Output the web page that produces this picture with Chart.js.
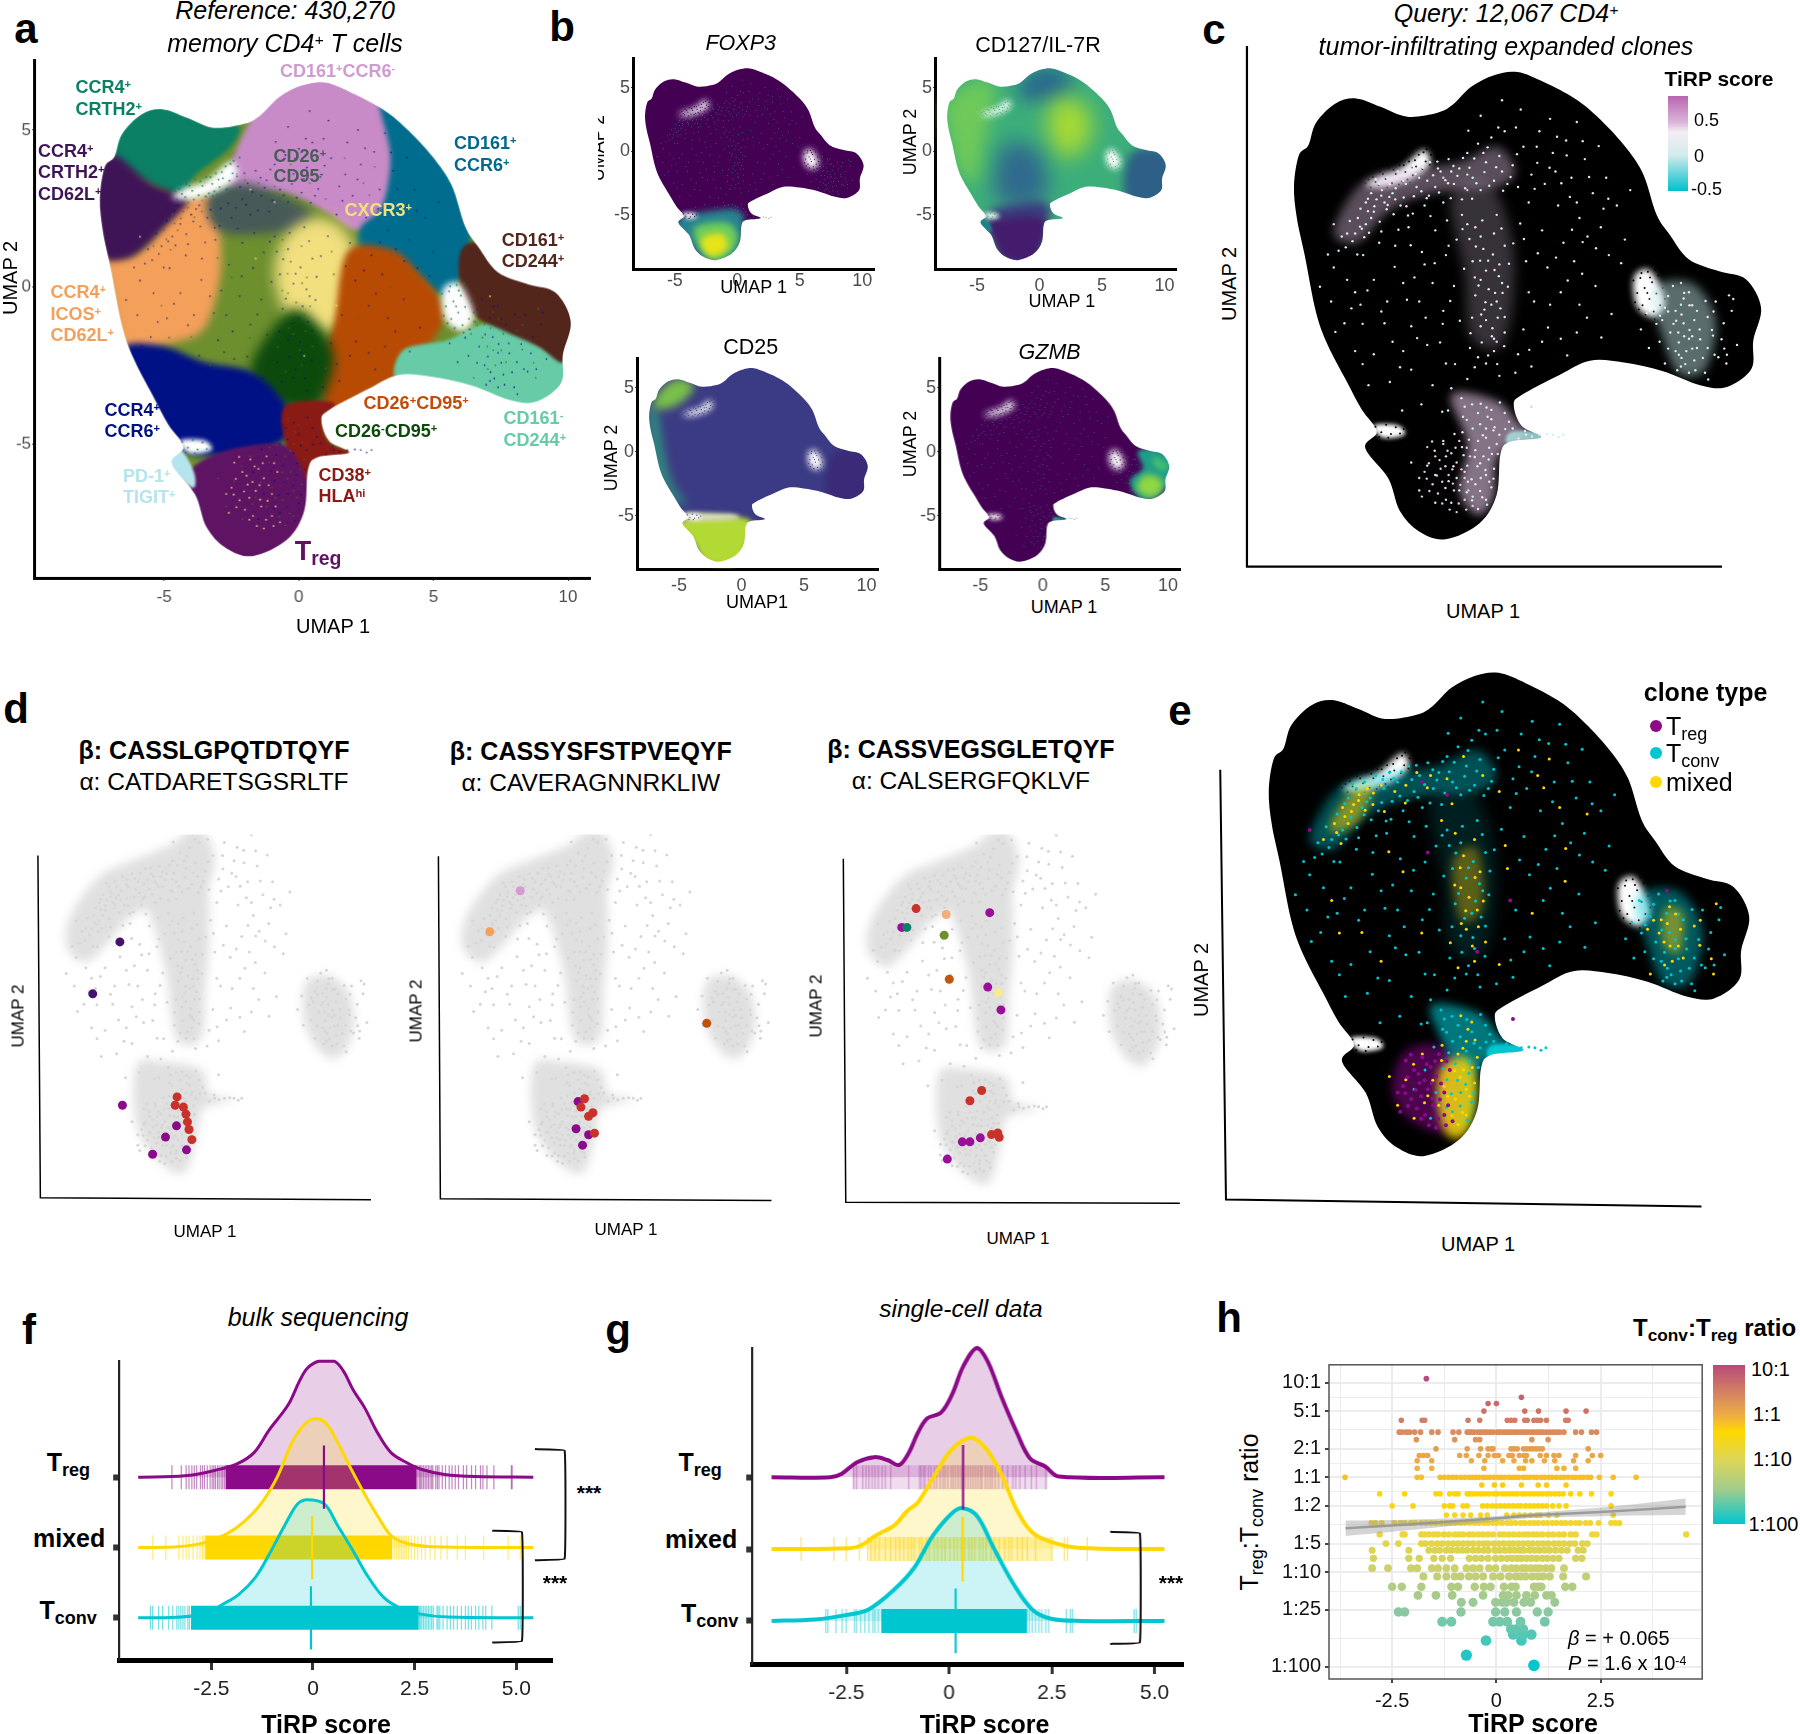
<!DOCTYPE html>
<html>
<head>
<meta charset="utf-8">
<title>UMAP and TiRP score panels</title>
<script src="https://cdn.jsdelivr.net/npm/chart.js@4"></script>
<style>
  html, body { margin: 0; padding: 0; background: #fff; }
  #page { position: relative; width: 1800px; height: 1734px; overflow: hidden; font-family: "Liberation Sans", Arial, sans-serif; }
  #page canvas { position: absolute; }
  .t { position: absolute; white-space: nowrap; line-height: 1; }
  .t sup { font-size: .62em; line-height: 0; vertical-align: .42em; }
  .t sub { font-size: .72em; line-height: 0; vertical-align: -.28em; }
</style>
</head>
<body>
<div id="page"></div>
<script>
// ---- shared UMAP outlines (UMAP 1, UMAP 2) ----
const blobOutline = [[-7.39,2.83],[-7.21,3.82],[-6.85,4.15],[-6.57,4.87],[-5.85,5.49],[-5.07,5.66],[-4.15,5.39],[-3.15,5.07],[-2.01,5.2],[-1.44,5.46],[-0.73,6.05],[0.13,6.42],[0.98,6.51],[1.98,6.18],[3.12,5.66],[3.97,5.07],[4.97,4.15],[5.68,3.23],[6.18,1.92],[6.68,1.26],[7.39,0.47],[8.53,0.08],[9.53,-0.18],[10.1,-1.1],[9.81,-2.15],[9.74,-3.07],[8.82,-3.66],[7.82,-3.6],[6.4,-3.14],[4.97,-2.87],[3.69,-2.81],[2.55,-3.27],[1.13,-3.92],[0.84,-4.25],[1.13,-4.91],[1.87,-5.28],[0.7,-5.43],[0.34,-5.83],[0.2,-7.14],[-0.44,-8.06],[-1.72,-8.58],[-2.72,-8.32],[-3.43,-7.66],[-3.86,-6.61],[-4.72,-5.63],[-4.29,-5.1],[-4.86,-4.38],[-5.43,-3.46],[-6.14,-2.28],[-6.57,-1.23],[-6.99,0.6],[-7.28,1.78]];
const holeTop = [[-4.7,2.85],[-4.2,3.15],[-3.4,3.4],[-2.55,4],[-2.3,3.55],[-2.9,3.1],[-3.9,2.8]];
const holeRight = [[5.35,-0.1],[5.95,0.1],[6.5,-0.9],[6.1,-1.4],[5.45,-1.05]];
const holeLow = [[-4.4,-4.9],[-3.5,-4.9],[-3.25,-5.2],[-4.05,-5.3]];
const holeSpeckTop = [[-4.72,2.92],[-4.44,3.12],[-4.52,2.78],[-4.18,3.28],[-4.22,2.86],[-3.96,3.06],[-3.84,3.42],[-3.72,2.92],[-3.58,3.22],[-3.44,3.5],[-3.34,2.98],[-3.22,3.28],[-3.08,3.62],[-2.94,3.18],[-2.82,3.46],[-2.72,3.84],[-2.58,3.38],[-2.46,3.62],[-2.42,4.02],[-2.3,3.52],[-2.26,3.84],[-4.06,3.22],[-3.66,3.36],[-3.14,3.04],[-2.66,3.12],[-4.34,2.96],[-3.9,2.78],[-3.46,2.88],[-2.98,3.42],[-2.54,3.92],[-2.2,4.12],[-2.86,3.66],[-3.28,3.5],[-4.6,3.04],[-3.04,2.94]];
const holeSpeckRight = [[5.32,-0.22],[5.46,-0.62],[5.58,-0.14],[5.66,-1.02],[5.74,-0.46],[5.86,0.06],[5.92,-0.82],[6.02,-0.28],[6.08,-1.22],[6.18,-0.64],[6.26,-0.06],[6.32,-1.02],[6.42,-0.46],[6.5,-0.82],[5.38,-0.92],[5.52,-1.16],[5.78,-1.32],[6.12,-1.46],[5.94,-0.12],[6.36,-1.36],[6.56,-1.12],[5.62,0.02],[6.14,0.12],[5.84,-0.62]];
const holeSpeckLow = [[-4.34,-4.94],[-4.12,-5.12],[-3.94,-4.88],[-3.76,-5.18],[-3.58,-4.96],[-3.42,-5.16],[-4.2,-5.28],[-3.28,-5.02],[-3.86,-5.3]];

// panel a clusters
const regPink = [[-1.8,5.3],[-0.7,6.2],[1,6.7],[3.3,5.8],[3.6,4.2],[3.3,2.6],[2.2,1.8],[1,2.4],[-0.5,3],[-2.6,3.2]];
const regTeal = [[3,5.9],[4,5.2],[5,4.3],[5.8,3.3],[6.4,1.9],[6,0.3],[5.4,-0.3],[3.6,0.9],[2.3,1.2],[2.3,1.9],[3.1,2.6],[3.4,4.2]];
const regGreen = [[-6.9,4.1],[-6.7,5],[-5.9,5.7],[-5.1,5.9],[-4.1,5.5],[-3,5.2],[-2.2,5.1],[-2.6,4.4],[-3.8,3.6],[-4.4,3],[-5.5,3.3]];
const regPlum = [[-7.6,2.8],[-7.4,3.9],[-6.8,4.2],[-5.5,3.3],[-4.3,2.9],[-4.2,2.6],[-5.1,1.8],[-5.8,1.2],[-6.4,0.9],[-7.2,0.9],[-7.5,1.8]];
const regOrange = [[-7.2,1],[-7,-0.2],[-6.7,-1.5],[-6.3,-2.1],[-4.8,-1.8],[-3.5,-1.3],[-2.9,0.5],[-3,2.2],[-3.3,2.9],[-4.3,2.7],[-5.2,1.8],[-6.2,1]];
const regSlate = [[-3.3,3],[-2,3.3],[-0.6,2.9],[0.5,2.3],[-0.2,1.8],[-1.4,1.7],[-2.6,1.7],[-3.3,2.1]];
const regYellow = [[-0.5,1.6],[0.6,2.2],[1.7,1.8],[2.2,0.6],[1.8,-0.9],[0.8,-1.5],[-0.4,-0.9],[-0.9,0.4]];
const regRust = [[1.8,1.1],[3.4,1.2],[4.4,0.5],[5.3,-0.5],[5.2,-1.4],[3.8,-2.8],[2.5,-3.4],[1.1,-4.1],[0.8,-2.4],[1.3,-1.2]];
const regForest = [[-0.4,-0.8],[0.6,-1.1],[1.3,-2.2],[1,-3.3],[0.5,-3.9],[-0.8,-3.7],[-1.8,-2.6]];
const regNavy = [[-6.5,-1.95],[-5,-1.9],[-3.5,-2.4],[-1.8,-2.7],[-0.7,-3.5],[-0.2,-4.4],[-1,-5.1],[-3,-5.4],[-4.4,-5.2],[-5.1,-4.3],[-5.7,-3.4]];
const regRed = [[-0.5,-3.8],[1.3,-3.7],[0.9,-4.4],[1.2,-5],[2,-5.3],[0.7,-5.5],[0.4,-5.9],[0.3,-7.1],[-0.1,-6],[-0.5,-5]];
const regTreg = [[-4,-5.8],[-2.6,-5.2],[-1,-5],[-0.3,-5.2],[0.3,-6.2],[0.3,-7.2],[-0.4,-8.2],[-1.7,-8.8],[-2.8,-8.5],[-3.6,-7.7],[-4,-6.7]];
const regPd1 = [[-4.9,-5.6],[-4.4,-5.2],[-3.9,-5.9],[-3.9,-6.4],[-4.4,-6.1]];
const regBrown = [[6,1.1],[6.6,1.4],[7.4,0.6],[8.5,0.2],[9.6,0],[10.3,-1.1],[9.9,-2.4],[8.9,-1.9],[7.6,-1.4],[6.5,-0.9],[6,0]];
const regMint = [[3.9,-2],[5.5,-1.7],[6.8,-1.2],[8,-1.3],[9,-1.9],[9.9,-2.4],[9.9,-3.1],[8.8,-3.9],[7.8,-3.8],[6.4,-3.3],[4.9,-3],[3.6,-2.95]];

// panel c, e, d density bands
const bandArc = [[-5.9,1.3],[-5.2,2.6],[-4.2,3.2],[-2.8,3.4],[-1.2,3.6],[0.2,4.1],[0.9,3.3],[0.2,2.8],[-1.5,2.7],[-3,2.4],[-4,1.9],[-5,1]];
const bandMid = [[-1.5,2.5],[0,2.8],[0.8,1],[0.8,-1],[0.3,-2.4],[-0.8,-2],[-1,0]];
const bandLow = [[-1.5,-3.9],[0.2,-4.1],[1,-4.8],[1.4,-5.1],[1,-5.4],[0.2,-6],[0.1,-7.2],[-0.5,-7.8],[-1.2,-7],[-0.9,-5.5]];
const bandTail = [[0.8,-5.1],[2.9,-5.2],[0.8,-5.6]];
const bandRight = [[6,-0.5],[7.5,-0.3],[8.4,-1.5],[8,-3.1],[7,-3.2],[6.4,-2]];
const cloudArc = [[-6.4,0.6],[-6.2,1.8],[-4.7,3.3],[-3,3.9],[-1,4.5],[0.4,5.2],[1.3,4],[0.6,2.6],[-1.5,2.2],[-3,1.8],[-4.2,0.8],[-5.4,0]];
const cloudMid = [[-2.2,2.8],[0.6,3.2],[1,1],[0.8,-1],[0.6,-2.9],[-0.7,-2.9],[-1.2,-0.5],[-1.7,1]];
const cloudLow = [[-2.8,-4],[-1.5,-3.8],[0.6,-4.1],[1,-5],[2.3,-5.25],[0.7,-5.6],[0.4,-6.5],[-0.2,-8],[-1.3,-7.8],[-2.7,-6.4]];
const cloudRight = [[6,-0.8],[7.2,-0.5],[8.3,-1.2],[8.5,-2.6],[7.8,-3.6],[6.9,-3.5],[6,-2.4]];

// panel e / c / d query cells
const tconvCells = [[-5.6,1.2],[-5.3,1.7],[-5.1,1.3],[-4.9,2.1],[-4.7,1.6],[-4.5,2.6],[-4.4,2],[-4.2,2.9],[-4,2.3],[-3.9,3.1],[-3.7,2.6],[-3.5,3.3],[-3.4,2.2],[-3.2,2.9],[-3,3.4],[-2.9,2.5],[-2.7,3.1],[-2.5,2.2],[-2.3,3.6],[-2.1,2.8],[-1.9,3.3],[-1.8,2.3],[-1.6,3.7],[-1.4,2.9],[-1.2,3.4],[-1.1,2.4],[-0.9,3.9],[-0.7,3.1],[-0.5,4.2],[-0.4,2.7],[-0.2,3.6],[0,4.4],[0.1,3],[0.3,3.8],[0.5,4.6],[0.6,2.9],[0.8,3.5],
  [1.2,4.1],[1.5,3.2],[1.8,4.6],[2,2.9],[2.3,3.9],[2.5,2.2],[2.8,4.3],[3,3.1],[3.3,1.8],[3.5,3.7],[3.8,2.6],[4.1,1.5],[4.3,3.1],[1.1,5.3],[0.4,5.6],[-0.4,5.1],[2.2,5],[3.2,4.9],[1.4,2.3],[1.9,1.4],[2.7,1],[3.1,0.4],[3.6,1.2],[4.4,0.6],[4.7,2.2],[5,1.1],[5.2,2.7],[2.1,0.2],[2.6,-0.6],[3.3,-1],[3.9,-0.4],[4.5,-1.3],[1.6,-0.9],[1.2,-1.8],[1.9,-2.2],[2.6,-2.1],[3.2,-1.9],[1.5,-3],[0.9,-3.2],
  [-0.9,1.6],[-0.4,1.2],[0.2,1.9],[0.5,0.9],[-0.7,0.4],[-0.2,0.1],[0.4,-0.3],[-0.6,-0.7],[0,-1],[0.5,-1.4],[-0.4,-1.7],[0.1,-2.1],[-0.8,-2.4],[-0.2,-2.9],[0.3,-3.3],[-0.9,-3.4],[-1.4,-0.4],[-1.7,0.6],[-2.1,1.4],[-1.3,1.1],[-2.6,0.7],[-3.1,1.5],[-3.6,0.9],[-4.2,1],[-4.8,0.6],[-5.4,-0.2],[-5.9,0.2],[-6,-0.9],[-5.5,-1.6],[-4.9,-1],[-4.4,-0.2],[-3.9,-0.9],[-3.3,-0.3],[-2.7,-0.9],[-2.2,-0.3],[-1.8,-1.2],[-3,-1.7],[-3.7,-2.2],[-4.4,-2.6],[-5.1,-2.5],[-2.4,-2.3],[-1.7,-2.9],[-3,-3.1],[-3.8,-3.5],[-2.2,-3.6],[-1.5,-3.7],[-4.6,-3.6],
  [-1,-4.3],[-0.5,-4.5],[0,-4.7],[0.5,-4.5],[-0.7,-5],[-0.2,-5.3],[0.3,-5.2],[0.8,-5],[1.3,-5.2],[1.8,-5.2],[2.3,-5.2],[2.7,-5.2],[-0.6,-5.7],[-0.1,-6],[-0.9,-6.2],[-0.4,-6.6],[0,-6.9],[-0.7,-7.2],[-1.3,-6.6],[-1.7,-5.9],[-2.1,-6.5],[-1.5,-7.4],
  [6.1,-0.6],[6.5,-1.1],[6.8,-0.4],[7.1,-1],[7.4,-0.6],[7.7,-1.2],[7.2,-1.6],[6.7,-1.9],[6.3,-2.2],[6.9,-2.5],[7.4,-2.1],[7.8,-1.8],[8.1,-2.4],[7.6,-2.8],[7.1,-3],[7.4,-3.2],[8,-3.2],[8.5,-2.7],[8.7,-1.6],[8.4,-0.9],[9,-1.2],[9.2,-2.3],[5.6,-1.8],[5.9,-2.4],
  [-5.2,1.05],[-4.85,1.45],[-5.45,0.85],[-4.62,2.42],[-4.18,1.68],[-3.92,2.08],[-4.33,3.05],[-3.66,1.92],[-3.28,2.46],[-3.12,1.88],[-2.84,3.22],[-2.62,2.66],[-2.34,2.52],[-2.18,3.18],[-1.96,2.62],[-1.72,3.02],[-1.52,2.44],[-1.27,3.16],[-0.98,2.76],[-0.82,3.42],[-0.56,2.92],[-0.26,3.28],[-0.08,2.84],[0.18,3.44],[0.44,2.68],[0.72,3.12],[0.96,3.86],[0.26,4.72],[-0.14,4.08],[-0.64,3.72],[-1.06,3.74],[-1.42,3.48],[-2.02,3.62],[-2.56,3.42],[-3.24,3.18],[-3.82,2.48],[-4.58,1.32],[-5.02,0.62],[-5.72,0.74],[-4.12,1.36],[-3.48,1.42],[-2.94,1.94],[-2.28,1.86],[-1.66,1.72],[-1.08,1.44],
  [-0.82,1.12],[-0.34,1.72],[0.06,0.62],[0.38,1.46],[-0.58,0.88],[-0.12,0.42],[0.28,-0.08],[-0.48,-0.38],[0.14,-0.62],[0.62,-0.42],[-0.26,-1.16],[0.34,-1.12],[-0.72,-1.42],[0.04,-1.76],[0.48,-2.34],[-0.36,-2.22],[-0.12,-2.64],[-0.62,-3.02],[0.22,-2.92],[0.66,0.32],[-1.02,0.16],[0.82,0.98],
  [1.62,2.74],[2.18,3.42],[2.94,2.48],[3.66,3.12],[4.38,2.42],[1.08,1.62],[1.74,0.66],[2.42,0.52],[3.02,1.42],[3.92,0.82],[4.86,0.34],[2.86,-0.22],[3.58,-1.42],[2.12,-1.74],[1.42,-2.46],[2.84,-2.64],[4.12,-2.06],[-2.12,0.34],[-2.88,-0.12],[-3.62,0.22],[-4.64,-0.54],[-5.24,-1.12],[-6.12,0.62],[-6.42,-0.42],[-5.84,-1.88],[-4.82,-2.92],[-3.42,-3.02],[-2.78,-2.08],[-1.92,-2.22],[-1.18,-1.52],[-1.54,-0.88],[-2.46,-1.42],[-3.16,-0.84],[-4.12,-1.22],[-1.36,-2.92],[-2.62,-4.22],[-3.34,-4.42],[-1.84,-4.46],[-1.06,-4.62],[1.72,3.58],[2.46,4.42],[3.42,4.28],[4.02,4.12],[0.92,4.72],[-0.86,4.62],
  [-1.12,-4.02],[-0.72,-4.22],[-0.18,-4.32],[0.32,-4.16],[0.66,-4.78],[-0.92,-4.72],[-0.42,-4.86],[0.08,-5.06],[0.52,-5.02],[-0.84,-5.36],[-0.08,-5.62],[0.24,-5.82],[-1.04,-5.86],[-0.52,-6.22],[-0.22,-6.34],[0.08,-6.62],[-0.74,-6.64],[-0.42,-7.02],[-0.16,-7.46],[-0.92,-7.06],[1.02,-5.32],[1.52,-5.26],[2.08,-5.18],[2.52,-5.28],[1.26,-5.08],[-1.62,-4.42],[-1.38,-5.18],
  [6.32,-1.36],[6.62,-0.72],[6.92,-1.52],[7.22,-0.62],[7.52,-1.02],[7.02,-2.22],[7.42,-1.82],[7.82,-2.12],[6.62,-2.42],[7.12,-2.72],[7.52,-2.42],[7.92,-2.72],[7.26,-2.92],[7.64,-3.12],[8.26,-1.82],[8.02,-0.88],[8.36,-2.62],[6.18,-1.62],[5.82,-1.28],[6.96,-3.12],[8.62,-2.12],[8.82,-2.62],[8.12,-3.42],[9.06,-0.82]];
const mixedCells = [[-5.4,1.3],[-5,1.8],[-4.7,2.3],[-4.5,1.8],[-4.3,2.4],[-4.1,2.7],[-3.8,2.9],[-3.6,2.4],[-3.3,3],[-2.8,2.8],[-2.4,3],[-2,3.4],[-1.5,3.3],[-0.9,3.2],[-0.3,3.9],[0.4,3.3],[1,2.8],[2.4,3.3],[3.2,2.3],[1.7,4.1],
  [-1.1,1.9],[-0.6,1.5],[-0.3,0.8],[0.1,1.3],[0.3,0.3],[-0.4,-0.2],[-0.1,-0.5],[0.2,-0.9],[0.5,-1.9],[-0.2,-1.5],[0.1,-2.5],[-0.5,-2.7],[-5.1,-0.6],[-4,-1.6],[-2.5,0.3],[-3.3,-2.5],[1.3,0.4],[2.2,-1],[3.4,0],[1,-2.6],[4.2,2.1],
  [-0.4,-4.2],[0,-4.4],[-0.2,-5],[0.2,-5.5],[-0.5,-5.4],[-0.3,-5.9],[0.1,-6.3],[-0.2,-6.5],[-0.6,-6.8],[-0.2,-7.3],[-0.5,-7.6],[-1,-6.4],[-1.2,-7],[-1.6,-6.7],[-1.1,-5.6],[-1.8,-5.4],[-2.4,-6.2],[-2.7,-7],[-2.1,-7.4],[-3,-6.1],
  [6.4,-1.5],[6.9,-1.2],[7.2,-0.8],[7,-1.9],[7.6,-1.5],[7.3,-2.5],[7.7,-2.4],[8.1,-1.4],[8.3,-2],[8.8,-2.9],[8.9,-0.7],[6.5,-2.9],
  [-4.92,1.52],[-4.62,2.02],[-4.38,2.18],[-4.12,2.52],[-3.88,2.22],[-3.58,2.76],[-4.76,1.18],[-3.18,2.18],[-2.42,2.44],[-1.62,2.92],[-0.72,2.42],[-0.42,0.42],[-0.62,-0.12],[0.12,0.12],[-0.22,-0.92],[0.24,-1.42],[-0.38,-1.32],[0.42,-0.62],[0.02,-2.02],[-0.78,-1.92],[-0.14,-4.62],[0.12,-4.96],[-0.32,-5.22],[0.02,-5.82],[-0.42,-6.12],[-0.08,-6.72],[-0.34,-7.22],[-0.72,-7.32],[-0.88,-6.72],[-0.62,-5.92],[-1.42,-6.22],[-1.72,-6.92],[-1.08,-5.12],[-2.12,-5.72],[6.82,-1.62],[7.12,-1.32],[7.42,-1.02],[7.22,-2.02],[7.52,-2.02],[7.02,-2.62],[6.62,-1.22],[8.32,-1.22],[8.72,-2.42],[2.62,2.92],[3.42,1.02],[1.22,1.12],[-3.02,0.92],[-4.82,-1.62],[-1.82,-1.62],[2.82,3.82]];
const tregCells = [[-2.4,-5.6],[-2.1,-5.9],[-1.8,-5.5],[-1.5,-5.8],[-1.2,-5.4],[-2.5,-6.4],[-2.2,-6.8],[-1.9,-6.3],[-1.6,-6.5],[-1.3,-6.1],[-1,-6.6],[-0.8,-5.9],[-2.6,-7.2],[-2,-7.1],[-1.7,-7.3],[-1.4,-7],[-1,-7.3],[-0.7,-7.5],[-1.3,-7.7],[-2.7,-6.6],[-5.9,1.6],[-1.6,0.9],[-0.9,2.7],[-1.8,3.1],[0.2,-2.2],[1.4,-0.6],[7.1,-0.3],[1.5,-4.3],
  [-2.22,-5.42],[-1.64,-5.72],[-1.34,-5.62],[-2.34,-6.12],[-1.94,-6.02],[-1.72,-6.22],[-1.46,-6.32],[-1.12,-6.32],[-0.92,-5.62],[-2.42,-6.62],[-2.04,-6.52],[-1.84,-6.72],[-1.44,-6.78],[-1.16,-6.82],[-0.86,-7],[-2.32,-7.02],[-1.84,-7.42],[-1.22,-7.42],[-0.94,-7.62],[-1.56,-7.62]];

// panel d highlighted cells
const d1Plum = [[-3.63,0.79],[-5.04,-1.2]];
const d1Purple = [[-3.5,-5.47],[-0.69,-6.26],[-1.26,-6.69],[-1.93,-7.35],[-0.17,-7.18]];
const d1Red = [[-0.66,-5.15],[-0.76,-5.47],[-0.33,-5.54],[-0.2,-5.81],[-0.12,-6.11],[-0.04,-6.4],[0.11,-6.79]];
const d2Pink = [[-3.46,2.75]];
const d2Orange = [[-5.01,1.18]];
const d2Rust = [[6.06,-2.33]];
const d2Purple = [[-0.51,-5.33],[-0.61,-6.37],[0.03,-6.6],[-0.28,-7]];
const d2Red = [[-0.18,-5.22],[-0.36,-5.54],[0.25,-5.76],[0.03,-5.89],[0.33,-6.54]];
const d3Purple = [[-0.19,2.02],[-4.67,1.47],[-0.29,-0.75],[0.38,-1.6],[-1.59,-6.51],[-1.2,-6.51],[-0.67,-6.36],[-2.35,-7.15]];
const d3Red = [[-3.94,2.17],[-0.6,-4.6],[-1.2,-4.98],[-0.1,-6.24],[0.22,-6.18],[0.29,-6.34]];
const d3Green = [[-4.41,1.47]];
const d3Peach = [[-2.41,1.95]];
const d3Olive = [[-2.51,1.18]];
const d3Rust = [[-2.25,-0.46]];
const d3Yellow = [[0.25,-0.96]];

// panels f, g: TiRP score grids and ridge heights
const fXTreg = [-4.3,-3.15,-2.4,-1.87,-1.45,-1.08,-0.61,-0.33,-0.14,0.14,0.52,0.75,0.99,1.27,1.6,1.92,2.3,2.68,3.24,3.99,5.42];
const fDTreg = [0,0.02,0.1,0.19,0.35,0.67,1.03,1.37,1.55,1.65,1.65,1.51,1.24,0.99,0.62,0.35,0.21,0.11,0.04,0.01,0];
const fXMixed = [-4.3,-3.33,-2.67,-2.11,-1.73,-1.27,-0.89,-0.52,-0.23,0.05,0.33,0.61,0.89,1.27,1.64,1.92,2.3,2.95,5.42];
const fDMixed = [0,0.01,0.07,0.2,0.35,0.63,0.99,1.49,1.74,1.83,1.76,1.49,1.17,0.76,0.4,0.17,0.06,0.01,0];
const fXTconv = [-4.3,-3.24,-2.58,-2.2,-1.83,-1.41,-1.08,-0.7,-0.38,-0.14,0.28,0.61,0.99,1.36,1.74,2.11,2.58,3.33,5.42];
const fDTconv = [0,0.01,0.08,0.2,0.33,0.58,0.9,1.31,1.62,1.68,1.62,1.31,0.95,0.58,0.29,0.15,0.06,0.01,0];
const fRugTreg = [-3.47,-3.24,-3.12,-3.05,-2.98,-2.92,-2.86,-2.77,-2.72,-2.67,-2.6,-2.53,-2.48,-2.44,-2.4,-2.35,-2.31,-2.26,-2.22,-2.18,2.58,2.62,2.65,2.68,2.72,2.76,2.8,2.84,2.88,2.92,2.95,3.02,3.06,3.1,3.18,3.26,3.35,3.42,3.5,3.58,3.7,3.78,3.9,4,4.12,4.18,4.28,4.45,4.88,4.9];
const fRugMixed = [-3.94,-3.62,-3.3,-3.2,-3.12,-3.05,-2.95,-2.85,-2.78,-2.72,-2.68,2,2.05,2.1,2.14,2.18,2.22,2.26,2.3,2.35,2.42,2.5,2.58,2.67,2.76,2.88,3,3.15,3.3,3.55,3.75,4.2,4.8,5.1];
const fRugTconv = [-4,-3.95,-3.8,-3.7,-3.55,-3.45,-3.35,-3.3,-3.25,-3.2,-3.15,-3.08,-3.04,2.62,2.65,2.68,2.72,2.76,2.8,2.84,2.88,2.92,2.96,3.05,3.08,3.12,3.2,3.3,3.38,3.46,3.55,3.65,3.75,3.82,3.9,4,4.08,4.18,4.25,4.4,5.05,5.1];
const fCore = [[-2.15,2.55],[-2.65,1.95],[-3,2.6]];
const fMedians = [0.27,-0.02,-0.05];

const gXTreg = [-4.32,-2.89,-2.61,-2.24,-1.82,-1.5,-1.22,-0.99,-0.76,-0.53,-0.2,0.07,0.35,0.68,0.95,1.28,1.65,1.97,2.34,2.67,5.24];
const gDTreg = [0,0,0.05,0.21,0.28,0.24,0.17,0.33,0.62,0.82,0.9,1.15,1.55,1.8,1.6,1.11,0.62,0.26,0.15,0.01,0];
const gXMixed = [-4.32,-2.43,-2.15,-1.78,-1.31,-1.04,-0.76,-0.39,0.07,0.54,0.91,1.28,1.65,2.02,2.48,3.13,5.24];
const gDMixed = [0,0.01,0.05,0.19,0.34,0.52,0.65,0.99,1.39,1.55,1.39,1.03,0.54,0.23,0.1,0.02,0];
const gXTconv = [-4.32,-3.26,-2.52,-1.96,-1.31,-0.85,-0.39,0.07,0.33,0.68,1.09,1.56,2.02,2.48,3.22,5.24];
const gDTconv = [0,0.02,0.08,0.16,0.45,0.74,1.19,1.5,1.57,1.46,1.01,0.52,0.16,0.03,0,0];
const gRugTreg = [-2.32,-2.25,-2.1,-2.02,-1.95,-1.87,-1.8,-1.72,-1.63,-1.55,-1.42,-0.98,-0.72,-0.68,-0.62,-0.58,-0.5,-0.44,-0.36,-0.3,-0.22,-0.15,-0.1,-0.03,0.05,0.1,0.16,0.22,0.28,0.33,0.4,0.46,0.52,0.58,0.64,0.7,0.76,0.8,0.88,0.94,1,1.05,1.12,1.2,1.3,1.42,1.55,1.62,1.72,1.85,2,2.12,2.35];
const gRugMixed = [-3.6,-2.8,-2.5,-2.18,-1.98,-1.9,-1.8,-1.7,-1.55,-1.42,-1.3,-1.2,-1.1,-1,-0.92,-0.85,-0.72,-0.66,-0.55,-0.48,-0.36,-0.28,-0.18,-0.1,0.02,0.12,0.2,0.3,0.38,0.48,0.55,0.62,0.74,0.82,0.9,1.02,1.1,1.22,1.35,1.45,1.52,1.66,1.78,1.9,2.1,2.5,2.8,2.88,3.36];
const gRugTconv = [-3,-2.95,-2.75,-2.6,-2.5,-2.3,-2.25,-2.15,-2.05,-1.95,-1.85,-1.8,-1.72,1.95,2.02,2.1,2.18,2.25,2.35,2.42,2.85,2.95,3,4.5,4.55];
const gCore = [[-2.35,2.4],[-1.95,2.5],[-1.65,1.9]];
const gMedians = [0.34,0.33,0.16];

// panel h: clone ratios and the scores found at each ratio
const hRatios = [11,7,6,5,4,3,2.5,2,1.7,1.5,1.25,1,0.83,0.67,0.5,0.4,0.33,0.25,0.2,0.17,0.14,0.11,0.09,0.07,0.057,0.048,0.038,0.03,0.025,0.022,0.019,0.0133,0.0104];
const hScores = [
  [-1.68],[0.6],[-0.2,0],[-0.3,0.68,1.01,1.67,2.15],
  [-2.28,-1.78,-1.72,-0.68,-0.4,0.26,0.35,0.44,0.68,0.74,0.9,0.98,1.06,1.2,1.66,1.72],
  [-2.33,-2.26,-2.16,-2.08,-1.96,-1.82,-1.55,-1.4,-1.04,-0.9,-0.7,-0.66,-0.6,-0.54,-0.45,-0.38,-0.3,-0.24,-0.16,-0.08,0.02,0.08,0.14,0.22,0.28,0.34,0.42,0.48,0.56,0.62,0.7,0.76,0.84,0.9,0.98,1.05,1.12,1.2,1.28,1.36,1.44,1.52,1.62,1.9,2.04,2.28,2.4],
  [-1.92,-1,-0.5,-0.4,0.85,1.24],
  [-1.45,-0.7,-0.38,-0.2,-0.12,-0.08,0.35,0.42,0.5,0.65,0.72,0.8,0.87,0.95,1.02,1.1,2.2],
  [-1.85,-1.75,-1.65,-0.88,-0.72,-0.42,-0.2,-0.05,0.05,0.3,0.38,0.55,0.66,0.72,1.05,1.2,1.38,1.5,1.9,2.3,2.5],
  [-1.9,-1.55,-0.6,-0.28,0.15,0.42,0.7,0.85,1.15,1.4,1.85,2.2],
  [-1.9,-1.55,-0.3,0.55,0.65,1.45,1.62,1.9],
  [-3.63,-1.9,-1.8,-1.35,-1.25,-1.15,-1.05,-0.96,-0.85,-0.76,-0.66,-0.58,-0.5,-0.42,-0.32,-0.24,-0.16,-0.06,0.04,0.12,0.2,0.3,0.38,0.46,0.54,0.64,0.72,0.8,0.9,0.98,1.08,1.16,1.26,1.34,1.44,1.54,1.62,1.72,1.82,1.9,2,2.08,2.18,2.26,2.47,2.8,3.35],
  [-0.35,-0.05,0.15,0.6,1,1.2,1.67],
  [-2.8,-2.2,-1.45,-1.35,-1.12,-1,-0.92,-0.7,-0.62,-0.55,-0.46,-0.36,-0.28,-0.18,-0.06,0.02,0.14,0.22,0.32,0.42,0.5,0.62,0.7,0.8,0.9,1,1.1,1.2,1.3,1.4,1.5,1.6,1.78,2,2.28,2.75],
  [-2.5,-2,-1.25,-1.12,-1.05,-0.8,-0.7,-0.33,-0.22,-0.1,0,0.1,0.2,0.3,0.4,0.5,0.58,0.7,0.8,0.9,1,1.1,1.2,1.35,1.5,1.67,2.75],
  [-1.2,-1,-0.8,-0.62,-0.38,-0.22,0.25,0.42,0.55,0.68,0.82,0.96,1.05,1.25,1.45,2.8],
  [-3,-2.9,-2.75,-2.45,-2.3,-2.2,-2.05,-1.95,-1.8,-1.68,-1.56,-1.45,-1.32,-1.2,-1.1,-0.98,-0.86,-0.76,-0.64,-0.52,-0.42,-0.3,-0.2,-0.08,0.02,0.14,0.26,0.36,0.46,0.58,0.68,0.8,0.9,1,1.12,1.22,1.34,1.44,1.56,1.66,1.78,1.9,2,2.14,2.25,2.45,2.75,2.85,2.95],
  [-2.8,-2.25,-2.2,-1.8,-1.72,-1.62,-1.5,-1.4,-1.26,-1.14,-1,-0.9,-0.8,-0.66,-0.56,-0.44,-0.32,-0.2,-0.08,0.08,0.18,0.3,0.42,0.54,0.66,0.76,0.88,0.98,1.1,1.24,1.36,1.5,1.62,1.78,1.9,2.3,2.4,4.55],
  [-2.65,-2.35,-1.8,-1.7,-1.56,-1.42,-1.3,-1.16,-1.04,-0.92,-0.8,-0.68,-0.56,-0.42,-0.3,-0.2,-0.06,0.06,0.18,0.3,0.4,0.52,0.64,0.76,0.86,1,1.12,1.24,1.38,1.5,1.62,1.76,1.88,2.06,2.18],
  [-2.98,-2.1,-1.62,-1.48,-1.36,-1.2,-1.08,-0.94,-0.82,-0.7,-0.56,-0.44,-0.3,-0.2,-0.04,0.08,0.2,0.32,0.44,0.56,0.66,0.8,0.92,1.04,1.16,1.28,1.42,1.56,1.7,1.96,2.08],
  [-2.95,-2.1,-1.85,-1.5,-1.3,-1.1,-0.65,-0.5,-0.36,-0.2,-0.02,0.12,0.26,0.38,0.5,0.6,0.72,0.84,0.96,1.1,1.22,1.36,1.5,1.9,2.05],
  [-2.98,-2.6,-2.05,-1.9,-1.55,-1.4,-1.2,-1,-0.72,-0.56,-0.4,-0.18,-0.02,0.2,0.36,0.48,0.62,0.7,0.82,0.94,1.04,1.18,1.32,1.62],
  [-1.75,-1.42,-1.2,-1,-0.86,-0.66,-0.5,-0.32,-0.08,0.1,0.3,0.46,0.58,0.7,0.86,1,1.12,1.28,1.6,2.15],
  [-2.5,-2.27,-1.8,-1.08,-0.92,-0.52,-0.3,-0.14,0.18,0.36,0.46,0.9,1,1.08,1.65,1.82],
  [-1.88,-1.45,-1.06,-0.32,0.16,0.28,0.48,0.72,0.92,1.2,1.32],
  [-0.84,-0.56,-0.02,0.14,0.24,0.42,0.66,0.82,1.4],
  [-2.35,-2.2,-0.85,-0.02,0.2,0.48,0.98,1.24],
  [-1.3,-1.08,-0.08,0.08,0.26,0.58,1.16],
  [0.35,0.48,0.64],[0.4,0.64,0.84],
  [-0.25,0.6],[-0.72],[0.9],[-0.88]
];
const hTicks = [10,5,2,1,0.5,0.2,0.1,0.04,0.01];
const hTickLabels = ["10:1","5:1","2:1","1:1","1:2","1:5","1:10","1:25","1:100"];
const hMinorTicks = [7,3.2,1.41,0.71,0.32,0.14,0.063,0.02];
const hFitX = [-3.62,-2,0,1,2.5,4.54];
const hFitY = [0.29,0.32,0.37,0.4,0.43,0.489];
const hFitUpper = [0.35,0.36,0.39,0.425,0.48,0.6];
const hFitLower = [0.24,0.28,0.345,0.375,0.39,0.4];

// ---- small helpers ----
Chart.defaults.font.family = '"Liberation Sans", Arial, sans-serif';
const page = document.getElementById("page");
const pairs = a => a.map(p => ({ x: p[0], y: p[1] }));

// filled region, positioned by the chart's scales
class BlobController extends Chart.LineController {
  draw() {
    const ds = this.getDataset(), pts = this.getMeta().data, ctx = this.chart.ctx, n = pts.length;
    ctx.save();
    if (ds.atop) ctx.globalCompositeOperation = "source-atop";
    if (ds.blur) ctx.filter = "blur(" + ds.blur + "px)";
    ctx.fillStyle = ds.color;
    ctx.beginPath();
    ctx.moveTo(pts[0].x, pts[0].y);
    for (let i = 0; i < n; i++) {
      const a = pts[(i + n - 1) % n], b = pts[i], c = pts[(i + 1) % n], d = pts[(i + 2) % n];
      ctx.bezierCurveTo(b.x + (c.x - a.x) / 6, b.y + (c.y - a.y) / 6, c.x - (d.x - b.x) / 6, c.y - (d.y - b.y) / 6, c.x, c.y);
    }
    ctx.fill();
    ctx.restore();
  }
}
BlobController.id = "blob";
BlobController.defaults = Chart.LineController.defaults;
Chart.register(BlobController);

const region = (pts, color, blur, atop) => ({ type: "blob", data: pairs(pts), color, blur, atop: atop !== false, pointRadius: 0 });
const dots = (pts, color, r) => ({ type: "scatter", data: pairs(pts), pointRadius: r, pointBackgroundColor: color, pointBorderWidth: 0 });
// speckled white gaps in the cloud, specks in the colour of the panel
const gaps = (color, r) => [
  region(holeTop, "#ffffff", 3), region(holeRight, "#ffffff", 3), region(holeLow, "#ffffff", 2),
  dots(holeSpeckTop, color, r), dots(holeSpeckRight, color, r), dots(holeSpeckLow, color, r)
];

function text(x, y, html, o) {
  o = o || {};
  const d = document.createElement("div");
  d.className = "t";
  d.innerHTML = html;
  const tx = o.align === "l" ? "0" : o.align === "r" ? "-100%" : "-50%";
  d.style.cssText = "left:" + x + "px;top:" + y + "px;font-size:" + (o.size || 20) + "px;color:" + (o.color || "#000") + ";" +
    (o.bold ? "font-weight:700;" : "") + (o.italic ? "font-style:italic;" : "") +
    "transform:translate(" + tx + ",-50%)" + (o.rot ? " rotate(" + o.rot + "deg)" : "") + ";";
  page.appendChild(d);
  return d;
}

// rect is the plot area on the page, pad the room kept around it for ticks
function makeChart(rect, pad, scales, layers, plugins) {
  const c = document.createElement("canvas");
  const w = rect[2] - rect[0] + pad[0] + pad[2], h = rect[3] - rect[1] + pad[1] + pad[3];
  c.width = w; c.height = h;
  c.style.left = (rect[0] - pad[0]) + "px";
  c.style.top = (rect[1] - pad[1]) + "px";
  c.style.width = w + "px";
  c.style.height = h + "px";
  page.appendChild(c);
  scales.x.afterFit = s => { s.height = pad[3]; s.paddingLeft = s.paddingRight = 0; };
  scales.y.afterFit = s => { s.width = pad[0]; s.paddingTop = s.paddingBottom = 0; };
  return new Chart(c.getContext("2d"), {
    type: "scatter",
    data: { datasets: layers.slice().reverse() },
    plugins: plugins || [],
    options: {
      responsive: false, animation: false, events: [],
      layout: { padding: { left: 0, top: pad[1], right: pad[2], bottom: 0 } },
      plugins: { legend: { display: false }, tooltip: { enabled: false } },
      scales
    }
  });
}

function fixedTicks(list) { return s => { s.ticks = list.map(v => ({ value: v })); }; }

// a, b: UMAP panels that have real numbered axes
function axisPanel(rect, pad, map, layers, o) {
  const scales = {
    x: { type: "linear", min: (rect[0] - map[0]) / map[1], max: (rect[2] - map[0]) / map[1],
      afterBuildTicks: fixedTicks([-5, 0, 5, 10]),
      border: { display: true, color: "#000", width: o.line },
      grid: { drawOnChartArea: false, tickLength: o.tick, tickColor: "#444", tickWidth: 1 },
      ticks: { color: "#4d4d4d", font: { size: o.font }, padding: o.xpad, maxRotation: 0, autoSkip: false, callback: v => String(v) } },
    y: { type: "linear", min: (map[2] - rect[3]) / map[3], max: (map[2] - rect[1]) / map[3],
      afterBuildTicks: fixedTicks([-5, 0, 5]),
      border: { display: true, color: "#000", width: o.line },
      grid: { drawOnChartArea: false, tickLength: 2, tickColor: "#444", tickWidth: 1 },
      ticks: { color: "#4d4d4d", font: { size: o.font }, padding: 1, autoSkip: false, callback: v => String(v) } }
  };
  return makeChart(rect, pad, scales, layers);
}

// c, d, e: axes carry no numbers and lean slightly, so they are thin line datasets
function freePanel(rect, map, layers, axis, lw) {
  const toData = p => ({ x: (p[0] - map[0]) / map[1], y: (map[2] - p[1]) / map[3] });
  const axisLine = { type: "line", data: axis.map(toData), borderColor: "#000", borderWidth: lw, pointRadius: 0, fill: false, tension: 0 };
  const hidden = { display: false };
  const scales = {
    x: Object.assign({ type: "linear", min: (rect[0] - map[0]) / map[1], max: (rect[2] - map[0]) / map[1] }, hidden),
    y: Object.assign({ type: "linear", min: (map[2] - rect[3]) / map[3], max: (map[2] - rect[1]) / map[3] }, hidden)
  };
  return makeChart(rect, [0, 0, 0, 0], scales, layers.concat([axisLine]));
}

// ---- a ----
axisPanel([34.4, 56, 590, 577.5], [34, 0, 4, 40], [299, 26.9, 284.4, 31.59], [
  region(blobOutline, "#6d8f2e", 0.6, false),
  region(regPink, "#c98bc8", 2.5),
  region(regTeal, "#006d8f", 2.5),
  region(regGreen, "#0b8064", 2),
  region(regOrange, "#f4a05b", 4),
  region(regPlum, "#3f1457", 3),
  region(regSlate, "#475a58", 5),
  region(regYellow, "#f2df7e", 7),
  region(regRust, "#b84b04", 3),
  region(regForest, "#0c4a0c", 6),
  region(regNavy, "#001085", 3),
  region(regRed, "#8a1a14", 1.5),
  region(regTreg, "#5f1463", 1.5),
  region(regPd1, "#b5e4ec", 1),
  region(regMint, "#66cba6", 1.5),
  region(regBrown, "#53261c", 1.5),
  dots(tconvCells, "#001085", 0.8),
  dots(mixedCells, "#4a6b20", 0.8),
  dots(tregCells, "#f2df7e", 0.9)
].concat(gaps("#0b8064", 0.9)), { line: 3, tick: 3, font: 17, xpad: 6 });

// ---- b ----
const bOpts = { line: 3, tick: 2, font: 18, xpad: 4 };
axisPanel([632.9, 53.9, 874, 269.4], [32, 0, 4, 26], [737.3, 12.5, 149, 12.98], [
  region(blobOutline, "#440154", 0.4, false),
  dots(tconvCells.concat(mixedCells), "#2a788e", 0.5),
  region([[-4.9,-5.5],[-2,-4.7],[0.3,-4.8],[0.4,-7],[-0.5,-8.6],[-2,-8.9],[-3.6,-7.8]], "#26828e", 3),
  region([[-3.4,-6],[-1,-5.6],[0,-6.5],[-0.3,-7.8],[-1.8,-8.6],[-3,-7.6]], "#6ccd5a", 3),
  region([[-2.8,-6.8],[-1.2,-6.5],[-0.8,-7.6],[-1.9,-8.3],[-2.7,-7.8]], "#e7e419", 3)
].concat(gaps("#440154", 0.6)), { line: 3, tick: 2, font: 18, xpad: -1 });

axisPanel([935, 53.9, 1176, 269.4], [36, 0, 4, 32], [1039.5, 12.5, 149, 12.98], [
  region(blobOutline, "#3bae7a", 0.4, false),
  region([[-7.5,4],[-4.5,5.8],[-3.5,4.5],[-4,2.5],[-4.5,0],[-5,-2.5],[-6.5,-1.5],[-7.4,1.5]], "#6fca58", 9),
  region([[-1.8,5],[0,6.6],[2,6.3],[2.6,5],[1,4],[-1,4]], "#26688e", 9),
  region([[0.8,3.5],[2.5,4.2],[4,3],[4,1],[2.5,-0.5],[1,0.5]], "#a8db33", 11),
  region([[-2.8,0.5],[-0.5,0.3],[0.5,-1.5],[0.5,-3.5],[-1.5,-4.5],[-3.5,-3.5],[-3.5,-1.5]], "#2f6a8e", 10),
  region([[-3.5,-4.5],[0.3,-4],[0.5,-5.5],[-3.8,-5.5]], "#3a3d80", 5),
  region([[-3.9,-5.4],[0.3,-5.2],[0.4,-7.2],[-0.4,-8.7],[-1.7,-8.9],[-3,-8.5],[-3.8,-7]], "#431c6e", 3.5),
  region([[7.3,-0.2],[10.4,-0.2],[10.4,-3.9],[7,-3.9]], "#2d5f87", 4),
  region(regPd1, "#20808a", 1)
].concat(gaps("#3bae7a", 0.6)), bOpts);

axisPanel([637, 353.5, 878, 568.6], [36, 0, 4, 26], [741.5, 12.5, 449, 13.06], [
  region(blobOutline, "#3b3a84", 0.4, false),
  region([[-7.5,3.5],[-6.7,3],[-6.2,0],[-5.5,-2.5],[-4.5,-4],[-5.5,-3.8],[-7,-1]], "#2f8b7f", 5),
  region([[-6.5,4.8],[-5,5.7],[-3.8,5],[-5.2,3.6],[-7,3.4]], "#7ac04a", 4),
  region([[-5,-5.4],[0.4,-5.2],[0.5,-7.2],[-0.4,-8.7],[-1.7,-8.9],[-3,-8.5],[-3.9,-7]], "#b3d934", 2.5),
  region([[-4.6,-4.8],[-2,-4.8],[-0.5,-4.9],[-0.5,-5.3],[-4.2,-5.4]], "#d9dfb8", 2),
  region([[7.3,-0.2],[10.4,-0.2],[10.4,-3.9],[7,-3.9]], "#3a2a78", 3)
].concat(gaps("#3b3a84", 0.6)), bOpts);

axisPanel([939.3, 353.5, 1180, 568.6], [36, 0, 4, 26], [1042.9, 12.5, 449, 13.06], [
  region(blobOutline, "#440154", 0.4, false),
  dots(tconvCells, "#26828e", 0.5),
  region([[7.6,0],[9,0.2],[10.3,-0.6],[10.2,-1.9],[9.7,-3],[8.5,-3.8],[7.4,-3.3],[7,-2.2],[8,-1.3]], "#1f9e89", 2),
  region([[7.5,-2.8],[8.2,-1.8],[9.5,-2.2],[9.3,-3.3],[8.3,-3.5]], "#8fd744", 3),
  region([[9,-0.4],[10,-1],[9.6,-1.5],[8.8,-1]], "#3fbc73", 2),
  region([[0.9,-5.1],[1.9,-5.3],[0.9,-5.5]], "#1f9e89", 1)
].concat(gaps("#440154", 0.6)), bOpts);

// ---- c ----
const queryCells = tconvCells.concat(mixedCells, tregCells);
freePanel([1240, 36, 1790, 575], [1491, 27.1, 273.2, 31.43], [
  region(blobOutline, "#000000", 0.6, false)
].concat(gaps("#000000", 1), [
  region(bandArc, "rgba(214,186,216,0.42)", 5),
  region(bandMid, "rgba(214,190,216,0.26)", 6),
  region(bandLow, "rgba(220,190,222,0.6)", 4),
  region(bandTail, "rgba(170,224,226,0.85)", 1.5),
  region(bandRight, "rgba(190,226,228,0.48)", 5),
  dots(tconvCells, "#d3eef0", 1.2),
  dots(mixedCells, "#f0e2f1", 1.2),
  dots(tregCells, "#e5c8e5", 1.2)
]), [[1243, 42], [1243, 570.6], [1725, 570.6]], 2.2);

// ---- d ----
const greyCloud = [
  region(cloudArc, "#e0e0e0", 5, false),
  region(cloudMid, "#e0e0e0", 5, false),
  region(cloudLow, "#e0e0e0", 5, false),
  region(cloudRight, "#e0e0e0", 5, false),
  dots(queryCells, "#d6d6d6", 1.5)
];
const dRed = "#c8322a", dPurple = "#8b0a8b";
freePanel([0, 830, 395, 1225], [189.6, 19.7, 961, 26.7], greyCloud.concat([
  dots(d1Plum, "#44146a", 4.5), dots(d1Purple, dPurple, 4.5), dots(d1Red, dRed, 4.5)
]), [[34.2, 851.6], [36.7, 1201.6], [375, 1203.8]], 1.5);
freePanel([400, 830, 795, 1225], [587.8, 20.05, 961, 26.7], greyCloud.concat([
  dots(d2Pink, "#d49ad2", 4.5), dots(d2Orange, "#f4a05b", 4.5), dots(d2Rust, "#c0500a", 4.5), dots(d2Purple, dPurple, 4.5), dots(d2Red, dRed, 4.5)
]), [[434.7, 852.3], [436.7, 1202.7], [775.5, 1204.5]], 1.5);
freePanel([810, 830, 1200, 1225], [993.2, 20.1, 965.5, 27.5], greyCloud.concat([
  dots(d3Purple, "#9a0f9a", 4.5), dots(d3Green, "#0b8064", 4.5), dots(d3Red, dRed, 4.5), dots(d3Peach, "#f2ae7c", 4.5),
  dots(d3Olive, "#6d8f2e", 4.5), dots(d3Rust, "#c4560c", 4.5), dots(d3Yellow, "#f5ec90", 4.5)
]), [[839.5, 854.9], [842, 1206.2], [1184, 1207.4]], 1.5);

// ---- e ----
freePanel([1205, 655, 1790, 1225], [1471.4, 27.85, 880.4, 32.47], [
  region(blobOutline, "#000000", 0.6, false)
].concat(gaps("#000000", 1), [
  region(bandArc, "rgba(0,190,200,0.42)", 5),
  region([[-5.2,1.6],[-4.4,2.8],[-3.6,2.9],[-4.2,1.8]], "rgba(255,216,0,0.5)", 4),
  region(bandMid, "rgba(0,170,180,0.18)", 7),
  region([[-0.7,0.6],[0.2,1],[0.4,-0.8],[-0.4,-1.2]], "rgba(240,200,10,0.38)", 5),
  region(bandRight, "rgba(0,198,208,0.45)", 5),
  region([[7,-0.9],[7.7,-1],[7.6,-2.2],[7,-2]], "rgba(255,216,0,0.45)", 4),
  region(bandLow, "rgba(0,198,208,0.6)", 4),
  region(bandTail, "#00c6d0", 1.5),
  region([[-2.4,-5.3],[-1,-5.2],[-0.4,-6.5],[-0.8,-7.8],[-2.2,-7.5],[-2.9,-6.5]], "rgba(139,10,139,0.55)", 5),
  region([[-1.2,-6],[-0.2,-5.5],[0.2,-6.5],[-0.2,-7.9],[-1,-7.8]], "rgba(255,216,0,0.8)", 4),
  dots(tconvCells, "#00c6d0", 1.5),
  dots(mixedCells, "#ffd800", 1.5),
  dots(tregCells, "#8b0a8b", 2)
]), [[1216.4, 767.3], [1222.2, 1203.2], [1704.3, 1210.4]], 2);

// ---- f, g ----
const purple = "#8b0a87", gold = "#ffd800", cyan = "#00c6d0";
const ridgeColor = [purple, gold, cyan];
const ridgeFill = ["rgba(139,10,135,0.2)", "rgba(255,216,0,0.2)", "rgba(0,198,208,0.2)"];
const ridgeBase = [2, 1, 0];

function ridgePanel(rect, map, xs, ds, rugs, core, medians, o) {
  const layers = [], top = [];
  xs.forEach((x, i) => {
    const base = ridgeBase[i], col = ridgeColor[i];
    layers.push({ type: "line", data: core[i].map(v => ({ x: v, y: base })), borderColor: o.coreColor[i], borderWidth: o.band, borderCapStyle: "butt", pointRadius: 0, fill: false });
    layers.push({ type: "scatter", data: rugs[i].map(v => ({ x: v, y: base })), pointStyle: "line", rotation: 90, pointRadius: o.band / 2, pointBorderWidth: 1.2, pointBorderColor: o.rugColor[i], pointBackgroundColor: o.rugColor[i] });
    layers.push({ type: "line", data: x.map((v, k) => ({ x: v, y: base + ds[i][k] })), borderColor: col, borderWidth: o.lw, backgroundColor: ridgeFill[i], fill: { value: base }, pointRadius: 0, tension: 0.35, clip: 4 });
    top.push({ type: "line", data: [{ x: medians[i], y: base + 0.45 }, { x: medians[i], y: base - 0.45 }], borderColor: col, borderWidth: 2.2, pointRadius: 0, fill: false });
  });
  o.brackets.forEach(b => {
    top.push({ type: "line", data: [{ x: b[0], y: b[2] }, { x: b[1], y: b[2] - 0.02 }, { x: b[1], y: b[3] + 0.02 }, { x: b[0], y: b[3] }], borderColor: "#111", borderWidth: 2, pointRadius: 0, fill: false, clip: false, tension: 0.05 });
  });
  const scales = {
    x: { type: "linear", min: (rect[0] - map[0]) / map[1], max: (rect[2] - map[0]) / map[1],
      afterBuildTicks: fixedTicks([-2.5, 0, 2.5, 5]),
      border: { display: true, color: "#000", width: 5 },
      grid: { drawOnChartArea: false, tickLength: 10, tickWidth: 3, tickColor: "#333" },
      ticks: { color: "#222", font: { size: 21 }, padding: 7, autoSkip: false, maxRotation: 0, callback: v => (v === 5 ? "5.0" : String(v)) } },
    y: { type: "linear", min: -0.6, max: (map[2] - rect[1]) / map[3],
      afterBuildTicks: fixedTicks(ridgeBase),
      border: { display: true, color: "#222", width: 2.2 },
      grid: { drawOnChartArea: false, tickLength: 6, tickWidth: 6, tickColor: "#333" },
      ticks: { display: false } }
  };
  return makeChart(rect, [12, 0, o.right, 50], scales, layers.concat(top));
}

ridgePanel([117.5, 1347.7, 551.9, 1660], [312, 40.8, 1616, 73.5],
  [fXTreg, fXMixed, fXTconv], [fDTreg, fDMixed, fDTconv], [fRugTreg, fRugMixed, fRugTconv], fCore, fMedians,
  { lw: 3, band: 24, right: 20, rugColor: ["rgba(139,10,135,0.5)", "rgba(255,216,0,0.55)", "rgba(0,198,208,0.55)"], coreColor: [purple, gold, cyan],
    brackets: [[5.46, 6.19, 2.4, 0.82], [4.41, 5.14, 1.24, -0.35]] });

ridgePanel([751.2, 1335, 1184.8, 1664], [949, 41.3, 1619, 74.8],
  [gXTreg, gXMixed, gXTconv], [gDTreg, gDMixed, gDTconv], [gRugTreg, gRugMixed, gRugTconv], gCore, gMedians,
  { lw: 4, band: 24, right: 12, rugColor: ["rgba(139,10,135,0.32)", "rgba(240,200,0,0.55)", "rgba(0,198,208,0.55)"], coreColor: ["rgba(139,10,135,0.14)", "rgba(255,216,0,0.3)", cyan],
    brackets: [[3.92, 4.64, 1.24, -0.32]] });

// ---- h ----
const hStops = [[1.04,[184,74,120]],[0.5,[217,138,95]],[0.1,[240,178,62]],[-0.15,[255,214,0]],[-0.6,[236,214,60]],[-1,[200,208,112]],[-1.4,[144,200,160]],[-2,[0,198,208]]];
function ratioColor(r) {
  const v = Math.log10(r);
  for (let i = 1; i < hStops.length; i++) {
    if (v >= hStops[i][0]) {
      const a = hStops[i - 1], b = hStops[i], t = (v - b[0]) / (a[0] - b[0]);
      return "rgb(" + b[1].map((c, k) => Math.round(c + (a[1][k] - c) * t)).join(",") + ")";
    }
  }
  return "rgb(0,198,208)";
}
const hLayers = [
  { type: "line", data: hFitX.map((v, i) => ({ x: v, y: hFitUpper[i] })), borderWidth: 0, pointRadius: 0, backgroundColor: "rgba(153,153,153,0.42)", fill: "-1", tension: 0.3 },
  { type: "line", data: hFitX.map((v, i) => ({ x: v, y: hFitLower[i] })), borderWidth: 0, pointRadius: 0, fill: false, tension: 0.3 },
  { type: "line", data: hFitX.map((v, i) => ({ x: v, y: hFitY[i] })), borderColor: "rgba(150,150,150,0.9)", borderWidth: 2.5, pointRadius: 0, fill: false, tension: 0.2 }
];
hRatios.forEach((r, i) => {
  hLayers.unshift({ type: "scatter", data: hScores[i].map(v => ({ x: v, y: r })), pointRadius: Math.min(6, 2.8 + Math.max(0, -Math.log10(r) - 0.4) * 1.9), pointBackgroundColor: ratioColor(r), pointBorderWidth: 0 });
});
const hFrame = { id: "hFrame", afterDraw(ch) {
  const a = ch.chartArea, ctx = ch.ctx;
  ctx.save(); ctx.strokeStyle = "#555"; ctx.lineWidth = 1.5;
  ctx.strokeRect(a.left, a.top, a.right - a.left, a.bottom - a.top);
  ctx.restore();
} };
const hRect = [1329, 1359.3, 1704.4, 1679.3];
makeChart(hRect, [60, 0, 4, 34], {
  x: { type: "linear", min: (hRect[0] - 1497.4) / 41.95, max: (hRect[2] - 1497.4) / 41.95,
    afterBuildTicks: fixedTicks([-3.75, -2.5, -1.25, 0, 1.25, 2.5, 3.75]),
    border: { display: false },
    grid: { color: "#ececec", lineWidth: c => (Math.abs(c.tick.value) % 2.5 === 0 ? 2 : 1), tickLength: 4,
      tickColor: c => (Math.abs(c.tick.value) % 2.5 === 0 ? "#444" : "rgba(0,0,0,0)") },
    ticks: { color: "#111", font: { size: 20 }, padding: 6, autoSkip: false, maxRotation: 0, callback: v => (Math.abs(v) % 2.5 === 0 ? String(v) : "") } },
  y: { type: "logarithmic", min: 0.00746, max: 15.4,
    afterBuildTicks: fixedTicks(hTicks.concat(hMinorTicks)),
    border: { display: false },
    grid: { color: "#ececec", lineWidth: c => (hTicks.includes(c.tick.value) ? 2 : 1), tickLength: 4,
      tickColor: c => (hTicks.includes(c.tick.value) ? "#444" : "rgba(0,0,0,0)") },
    ticks: { color: "#111", font: { size: 20 }, padding: 4, autoSkip: false, callback: v => { const i = hTicks.indexOf(v); return i < 0 ? "" : hTickLabels[i]; } } }
}, hLayers, [hFrame]);

// ---- colour bars ----
function colorBar(l, t, w, h, css) {
  const d = document.createElement("div");
  d.style.cssText = "position:absolute;left:" + l + "px;top:" + t + "px;width:" + w + "px;height:" + h + "px;background:" + css;
  page.appendChild(d);
}
colorBar(1668, 96, 20, 95, "linear-gradient(#b765b0,#dcb6da 28%,#f4eef4 38%,#d4ebec 62%,#00c0cc)");
colorBar(1713, 1365, 32, 159, "linear-gradient(#b84a78,#d98a5f 20%,#f0b23e 33%,#ffd800 42%,#dcd65a 60%,#a3cc8c 78%,#00c6d0)");

// ---- text ----
const sup = s => "<sup>" + s + "</sup>", sub = s => "<sub>" + s + "</sub>";
const letters = [["a",26,29],["b",562,27],["c",1214,30],["d",16,709],["e",1180,711],["f",29,1330],["g",618,1330],["h",1229,1318]];
letters.forEach(l => text(l[1], l[2], l[0], { size: 42, bold: true }));

text(285, 10.4, "Reference: 430,270", { size: 25, italic: true });
text(285, 42.7, "memory CD4" + sup("+") + " T cells", { size: 25, italic: true });
text(1506, 13, "Query: 12,067 CD4" + sup("+"), { size: 25, italic: true });
text(1506, 45.7, "tumor-infiltrating expanded clones", { size: 25, italic: true });

const aLabels = [
  [280,71.3,"CD161"+sup("+")+"CCR6"+sup("-"),"#cf9bd1"],[75.4,87,"CCR4"+sup("+"),"#0b8064"],[75.4,108.6,"CRTH2"+sup("+"),"#0b8064"],
  [38,151.3,"CCR4"+sup("+"),"#3f1457"],[38,172,"CRTH2"+sup("+"),"#3f1457"],[38,193.6,"CD62L"+sup("+"),"#3f1457"],
  [273.6,155.5,"CD26"+sup("+"),"#4a5c5a"],[273.6,176,"CD95"+sup("-"),"#4a5c5a"],[454,143,"CD161"+sup("+"),"#00698f"],[454,164.6,"CCR6"+sup("+"),"#00698f"],
  [344.4,210,"CXCR3"+sup("+"),"#f2df7e"],[501.7,239.6,"CD161"+sup("+"),"#53261c"],[501.7,261.2,"CD244"+sup("+"),"#53261c"],
  [50.5,292,"CCR4"+sup("+"),"#f4a05b"],[50.5,313.8,"ICOS"+sup("+"),"#f4a05b"],[50.5,335,"CD62L"+sup("+"),"#f4a05b"],
  [363.6,403,"CD26"+sup("+")+"CD95"+sup("+"),"#c44a06"],[335,430.8,"CD26"+sup("-")+"CD95"+sup("+"),"#0c4a0c"],
  [104.5,409.6,"CCR4"+sup("+"),"#001085"],[104.5,431,"CCR6"+sup("+"),"#001085"],[503.6,418,"CD161"+sup("-"),"#66cba6"],[503.6,439.5,"CD244"+sup("+"),"#66cba6"],
  [123,476,"PD-1"+sup("+"),"#b5e4ec"],[123,496.7,"TIGIT"+sup("+"),"#b5e4ec"],[318.4,474.7,"CD38"+sup("+"),"#8a1a14"],[318.4,495.9,"HLA"+sup("hi"),"#8a1a14"]
];
aLabels.forEach(l => text(l[0], l[1], l[2], { align: "l", size: 18, bold: true, color: l[3] }));
text(294.7, 551.4, "T" + sub("reg"), { align: "l", size: 27, bold: true, color: "#5f1463" });

// axis titles
[[333,626,20],[753.7,286.5,18],[1061.8,301.2,18],[1064,607,18],[1483,611,20],[205,1230.7,17],[626,1229,17],[1018,1237.6,17],[1478,1243.7,20]]
  .forEach(a => text(a[0], a[1], "UMAP 1", { size: a[2] }));
text(757, 602.4, "UMAP1", { size: 18 });
[[9.6,277.8,20],[910,142,18],[611,458,18],[910,443.7,18],[1228.7,283.7,20],[17.9,1016,17],[415.8,1010.8,17],[816,1006,17],[1200.5,980.4,20]]
  .forEach(a => text(a[0], a[1], "UMAP 2", { size: a[2], rot: -90 }));

const clipBox = document.createElement("div");
clipBox.style.cssText = "position:absolute;left:598px;top:116px;width:7px;height:64px;overflow:hidden;";
page.appendChild(clipBox);
const clipped = text(0, 32, "UMAP 2", { size: 18, rot: -90 });
clipBox.appendChild(clipped);

text(740.7, 44, "FOXP3", { size: 21.5, italic: true });
text(1038, 45.7, "CD127/IL-7R", { size: 21.5 });
text(750.8, 347.8, "CD25", { size: 21.5 });
text(1049.6, 352.7, "GZMB", { size: 21.5, italic: true });

text(1719, 77.6, "TiRP score", { size: 21, bold: true });
text(1694, 119.6, "0.5", { align: "l", size: 18 });
text(1694, 156, "0", { align: "l", size: 18 });
text(1691, 188.6, "-0.5", { align: "l", size: 18 });

[[214,749.8,781.8,"CASSLGPQTDTQYF","CATDARETSGSRLTF"],[590.8,750.9,782.9,"CASSYSFSTPVEQYF","CAVERAGNNRKLIW"],[970.9,748.9,781.4,"CASSVEGSGLETQYF","CALSERGFQKLVF"]]
  .forEach(d => {
    text(d[0], d[1], "β: " + d[3], { size: 25, bold: true });
    text(d[0], d[2], "α: " + d[4], { size: 24.5 });
  });

text(1705.6, 691.5, "clone type", { size: 25, bold: true });
[[726, purple, "T" + sub("reg")], [752.7, cyan, "T" + sub("conv")], [782, gold, "mixed"]].forEach(l => {
  colorBar(1650, l[0] - 6, 12, 12, l[1] + ";border-radius:50%");
  text(1666, l[0], l[2], { align: "l", size: 25 });
});

text(318, 1316.7, "bulk sequencing", { size: 25, italic: true });
text(961, 1309.3, "single-cell data", { size: 24.5, italic: true });
[[46.7,1461.7,"T"+sub("reg")],[33,1538.3,"mixed"],[39.4,1610,"T"+sub("conv")],[678.5,1461.7,"T"+sub("reg")],[665,1539.3,"mixed"],[681,1612.7,"T"+sub("conv")]]
  .forEach(l => text(l[0], l[1], l[2], { align: "l", size: 25, bold: true }));
[[589,1491.7],[555,1581.7],[1171,1582.3]].forEach(s => text(s[0], s[1], "***", { size: 21, bold: true }));
text(326, 1724, "TiRP score", { size: 25, bold: true });
text(984.6, 1724, "TiRP score", { size: 25, bold: true });
text(1533, 1722.7, "TiRP score", { size: 25, bold: true });

text(1249, 1511.7, "T" + sub("reg") + ":T" + sub("conv") + " ratio", { size: 25, rot: -90 });
text(1568, 1638.3, "<i>β</i> = + 0.065", { align: "l", size: 20 });
text(1568, 1662.7, "<i>P</i> = 1.6 x 10" + sup("-4"), { align: "l", size: 20 });
text(1633, 1328, "T" + sub("conv") + ":T" + sub("reg") + " ratio", { align: "l", size: 24, bold: true });
[[1751,1369,"10:1"],[1753,1414,"1:1"],[1753,1459,"1:10"],[1748.4,1524.3,"1:100"]].forEach(l => text(l[0], l[1], l[2], { align: "l", size: 20 }));
</script>
</body>
</html>
